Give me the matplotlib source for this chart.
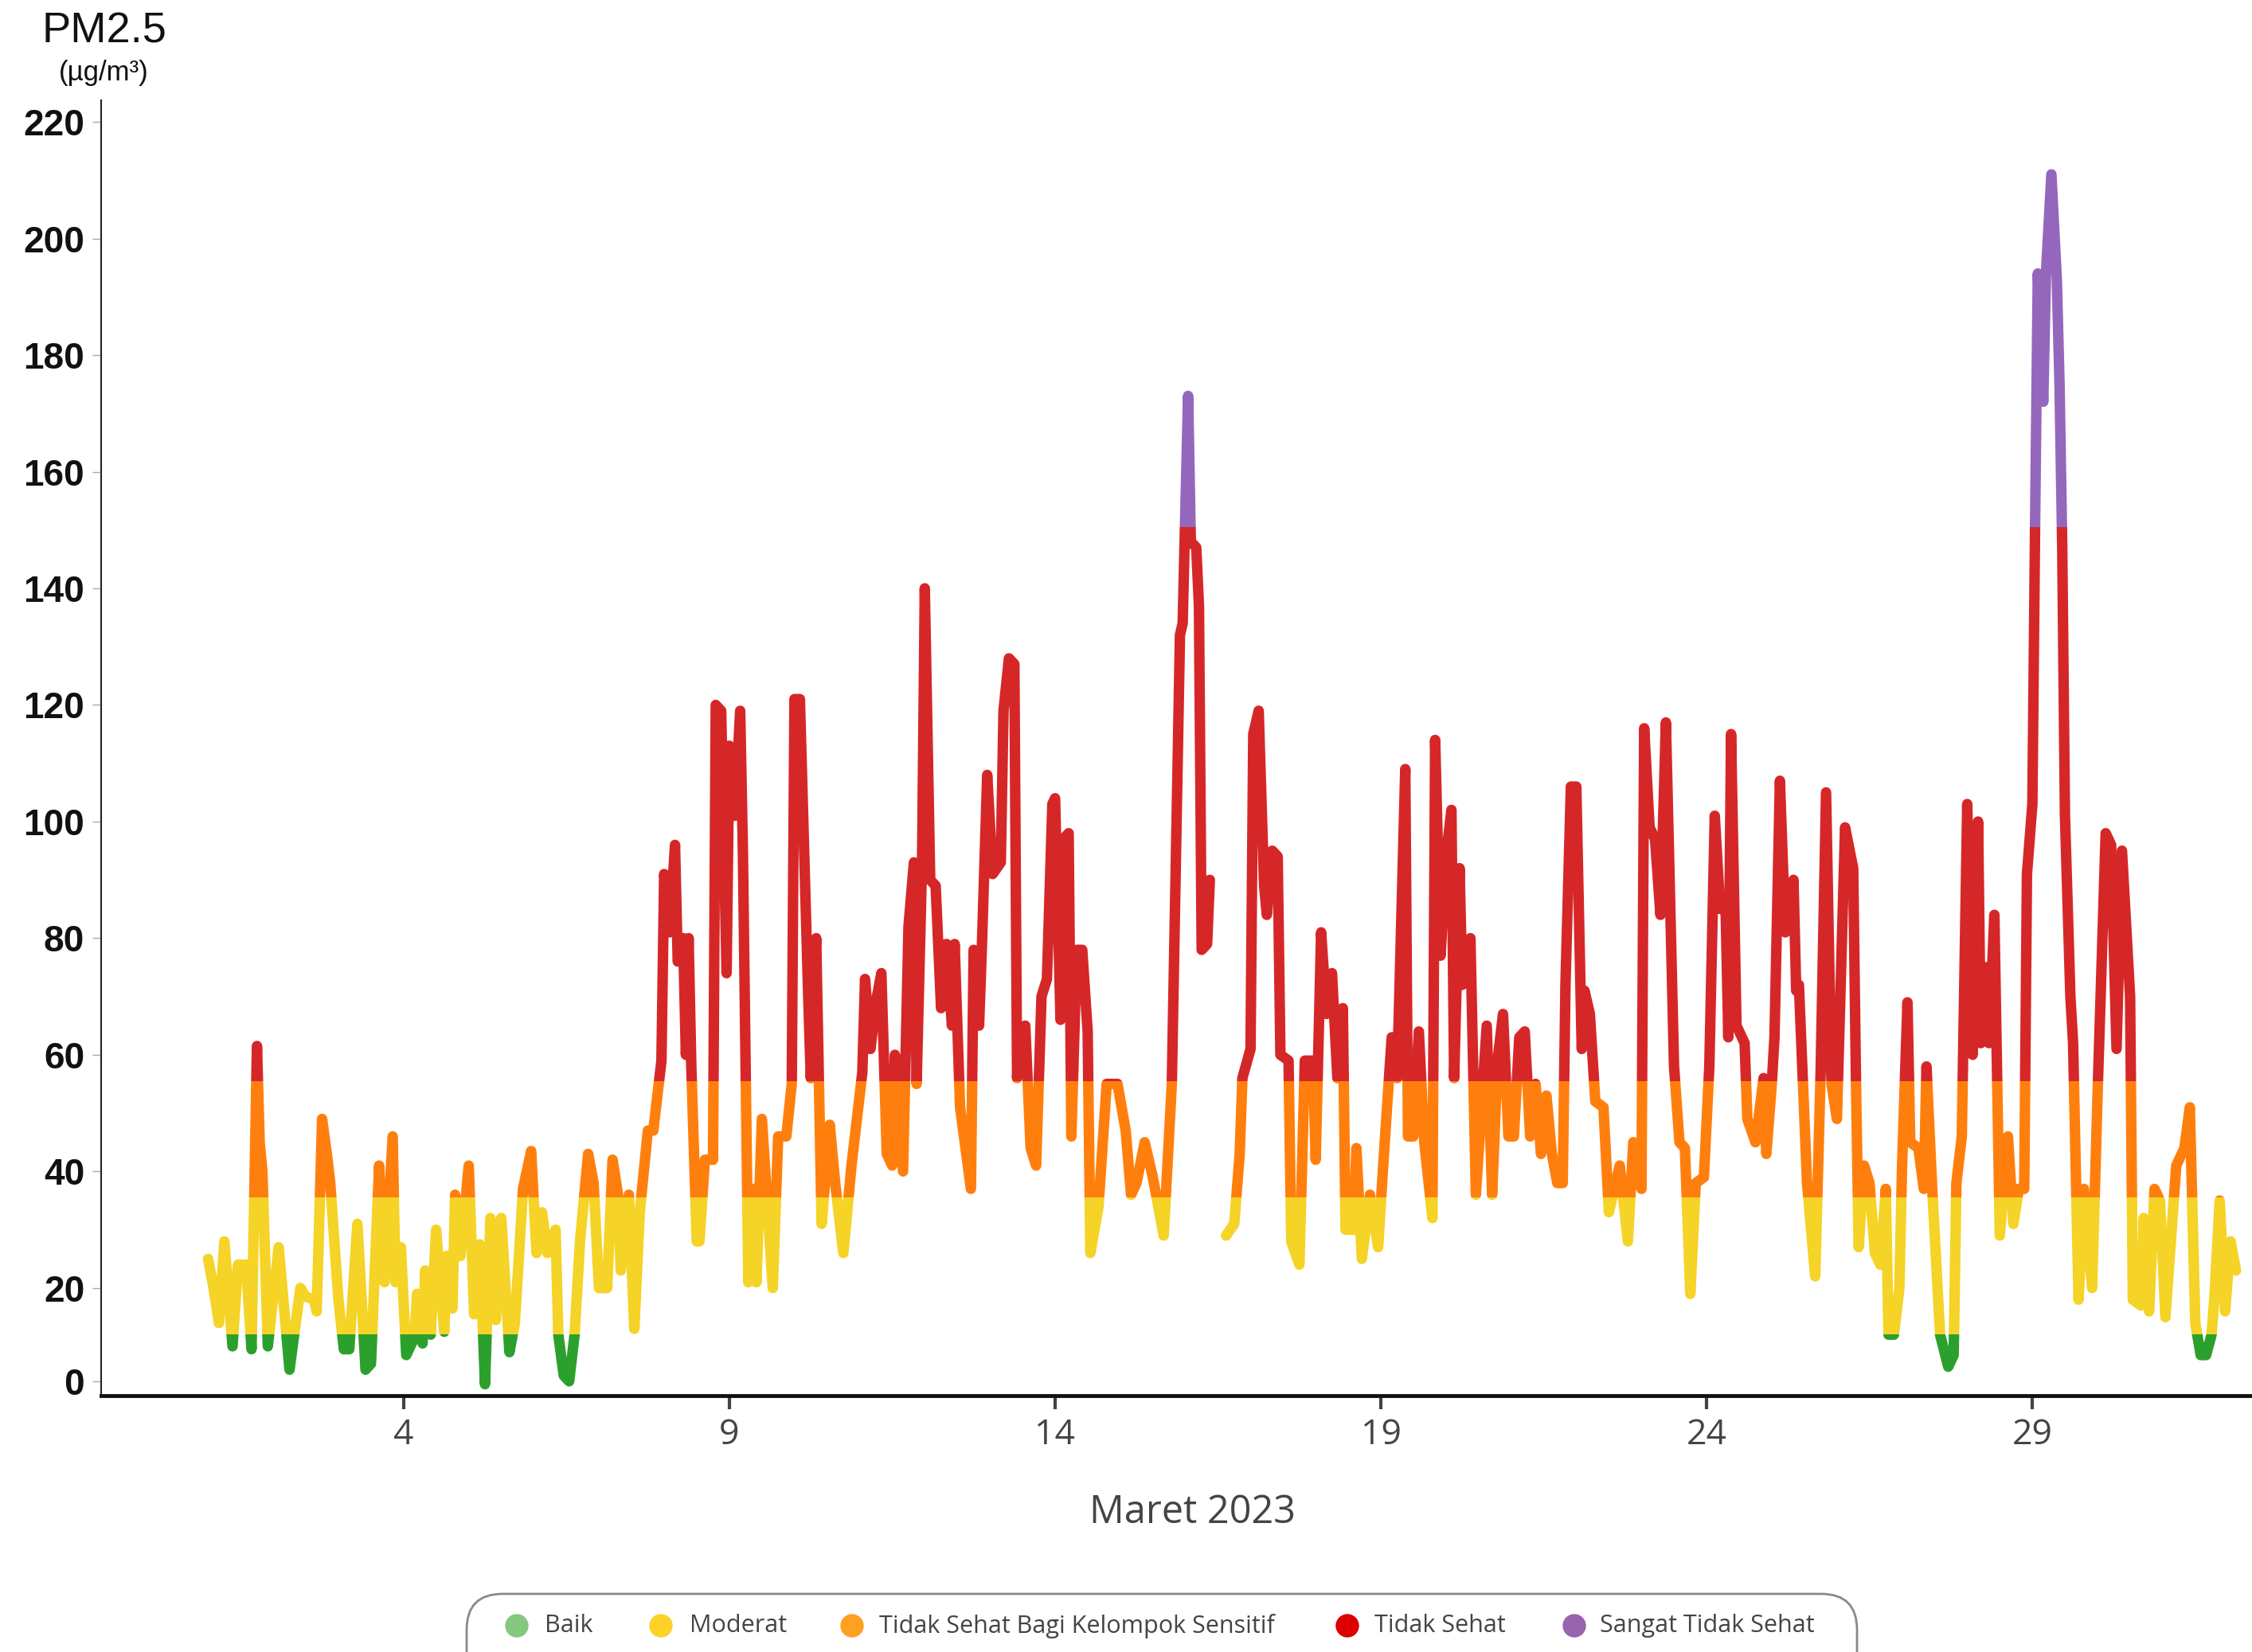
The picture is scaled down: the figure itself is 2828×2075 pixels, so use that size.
import numpy as np
import matplotlib
matplotlib.use("Agg")
import matplotlib.pyplot as plt
from matplotlib.patches import Rectangle, FancyBboxPatch, Circle

# ---------------- data (hours since 1 March 2023 00:00, PM2.5 in ug/m3) -------------
h1 = [0, 2, 4, 6, 9, 11, 14, 16, 18, 19, 20, 22, 26, 30, 34, 36, 39, 40, 42, 44, 45, 48,
      50, 52, 55, 58, 60, 63, 65, 68, 69, 71, 73]
v1 = [25, 20, 14, 28, 10, 24, 24, 9.5, 61.5, 45, 40, 10, 27, 6, 20, 18.5, 18, 16, 49, 42, 38, 18,
      9.5, 9.5, 31, 6, 7, 41, 21, 46, 21, 27, 8.5]

h2 = [76, 77, 79, 80, 82, 84, 87, 88, 90, 91, 93, 96, 98, 100, 102, 104, 106, 108, 111, 113,
      116, 119, 120, 121, 123, 125, 128, 129, 131, 133, 135, 137, 140, 142, 144, 147, 149]
v2 = [11.5, 19, 10.5, 23, 12, 30, 12.5, 25.5, 16.5, 36, 25.5, 41, 15.5, 27.5, 3.5, 32, 14.5, 32, 9, 14,
      37, 43.5, 34.5, 26, 33, 26, 30, 12, 5, 4, 12, 28, 43, 38, 20, 20, 42]

h3 = [151, 152, 155, 157, 159, 162, 164, 167, 168, 170, 172, 173, 175, 176, 177, 178, 180, 181,
      183, 186, 187, 189, 191, 192, 194, 196, 197, 199, 201, 202, 204, 208, 210, 213, 215, 216,
      218, 221, 222, 224, 226, 229]
v3 = [36, 23, 36, 13, 33, 47, 47, 59, 91, 81, 96, 76, 80, 60, 80, 58, 28, 28,
      42, 42, 120, 119, 74, 113, 101, 119, 95, 21, 37, 21, 49, 20, 46, 46, 55, 121,
      121, 71, 56, 80, 31, 48]

h4 = [231, 234, 237, 241, 242, 244, 246, 248, 250, 252, 253, 256, 258, 260, 261, 263, 264, 266,
      268, 270, 272, 274, 275, 277, 281, 282, 284, 285, 287, 289, 292, 293, 295, 297, 298, 299,
      301, 303, 305, 307, 309, 311, 312, 314, 315, 317, 318, 320, 322, 324, 325, 328, 331, 335,
      338, 340, 342, 345, 348, 352, 355, 358, 359, 361, 362, 364, 365, 366, 368, 369]
v4 = [38, 26, 41, 57, 73, 61, 69, 74, 43, 41, 60, 40, 82, 93, 55, 93, 140, 90,
      89, 68, 79, 65, 79, 51, 37, 78, 65, 78, 108, 91, 93, 119, 128, 127, 56, 64,
      65, 44, 41, 70, 73, 103, 104, 66, 97, 98, 46, 78, 78, 64, 26, 34, 55, 55,
      47, 36, 38, 45, 39, 29, 55, 132, 134, 173, 148, 147, 137, 78, 79, 90]

# missing reading (gap in the record)
h_gap = [371]
v_gap = [np.nan]

h5 = [375, 378, 380, 381, 384, 385, 387, 389, 390, 392, 394, 395, 398, 399, 402, 404, 407, 408,
      410, 412, 414, 416, 418, 419, 422, 423, 425, 428, 431, 433, 436, 438, 441, 442, 444, 446,
      448, 451]
v5 = [29, 31, 43, 56, 61, 115, 119, 89, 84, 95, 94, 60, 59, 28, 24, 59, 59, 42,
      81, 67, 74, 56, 68, 30, 30, 44, 25, 36, 27, 42, 63, 56, 109, 46, 46, 64,
      45, 32]

h6 = [452, 454, 456, 458, 459, 461, 462, 465, 467, 471, 473, 475, 477, 479, 481, 483, 485, 487,
      489, 491, 493, 495, 497, 499, 500, 502, 504, 506, 507, 509, 511, 514, 516, 520, 523, 525,
      528, 529, 531, 533, 535, 537]
v6 = [114, 77, 94, 102, 56, 92, 72, 80, 36, 65, 36, 59, 67, 46, 46, 63, 64, 46,
      55, 43, 53, 43, 38, 38, 72, 106, 106, 61, 71, 67, 52, 51, 33, 41, 28, 45,
      37, 116, 99, 97, 84, 117]

h7 = [540, 542, 544, 546, 548, 551, 553, 555, 557, 559, 560, 561, 563, 566, 567, 570, 573, 574,
      576, 577, 579, 581, 584, 585, 586, 589, 592, 594, 596, 598, 600, 603, 606, 607, 608, 610]
v7 = [58, 45, 44, 19, 38, 39, 58, 101, 85, 85, 63, 115, 65, 62, 49, 45, 56, 43,
      55, 63, 107, 81, 90, 71, 72, 38, 22, 57, 105, 55, 49, 99, 92, 56, 27, 41]

h8 = [612, 614, 616, 618, 619, 621, 623, 624, 626, 627, 630, 632, 633, 635, 638, 641, 643, 644,
      646, 648, 650, 652, 653, 655, 656, 658, 660, 663, 665, 667, 669, 670, 672, 673, 674, 676,
      677, 679, 681, 682, 683, 684, 686, 687, 689]
v8 = [38, 26, 24, 37, 12, 12, 20, 41, 69, 45, 44, 37, 58, 38, 12, 6.5, 8.5, 38,
      46, 103, 60, 100, 62, 75, 62, 84, 29, 46, 31, 37, 37, 91, 103, 151, 194, 172,
      194, 211, 193, 175, 147, 101, 70, 62, 18]

h9 = [691, 694, 696, 699, 701, 703, 705, 708, 709, 712, 713, 715, 717, 719, 721, 725, 728, 730,
      732, 734, 736, 738, 739, 741, 743, 745, 747]
v9 = [37, 20, 53, 98, 96, 61, 95, 70, 18, 17, 32, 16, 37, 35, 15, 41, 44, 51,
      14, 8.5, 8.5, 12, 18, 35, 16, 28, 23]

tick_days = [4, 9, 14, 19, 24, 29]
y_ticks = [0, 20, 40, 60, 80, 100, 120, 140, 160, 180, 200, 220]

categories = ["Baik", "Moderat", "Tidak Sehat Bagi Kelompok Sensitif", "Tidak Sehat",
              "Sangat Tidak Sehat"]
cat_upper = [12.0, 35.5, 55.5, 150.5, 1000.0]

# ---------------- styling -----------------------------------------------------------
line_colors = ["#2ca02c", "#f5d327", "#ff7f0e", "#d62728", "#9467bd"]
legend_colors = ["#84c77f", "#fdd127", "#ffa020", "#dc0000", "#9a63ad"]

hours = np.concatenate([h1, h2, h3, h4, h_gap, h5, h6, h7, h8, h9]).astype(float)
pm25 = np.concatenate([v1, v2, v3, v4, v_gap, v5, v6, v7, v8, v9]).astype(float)

W, H = 2828, 2075
fig = plt.figure(figsize=(W / 100, H / 100), dpi=100)
ax = fig.add_axes([127 / W, 1 - 1753 / H, (W - 127) / W, (1753 - 126) / H])

ax.set_xlim(-39.4, 752.9)
ax.set_ylim(1.54, 223.7)

lower = -100.0
for upper, col in zip(cat_upper, line_colors):
    ln, = ax.plot(hours, pm25, color=col, lw=9.5, solid_capstyle="round",
                  solid_joinstyle="round", zorder=3)
    clip = Rectangle((-100, lower), 2000, upper - lower, transform=ax.transData)
    ln.set_clip_path(clip)
    lower = upper

for s in ["top", "right"]:
    ax.spines[s].set_visible(False)
ax.spines["left"].set_linewidth(1.5)
ax.spines["left"].set_color("#222222")
ax.spines["bottom"].set_linewidth(3.5)
ax.spines["bottom"].set_color("#111111")

ax.set_xticks([(d - 1) * 24 for d in tick_days], [str(d) for d in tick_days],
              fontfamily="Open Sans", fontsize=32, color="#444444")
ax.tick_params(axis="x", length=12, width=3, color="#444444", pad=8)

# the "0" label sits just above the baseline in the reference
ytick_pos = [4 if v == 0 else v for v in y_ticks]
ax.set_yticks(ytick_pos, [str(v) for v in y_ticks], fontfamily="Liberation Sans",
              fontweight="bold", fontsize=33, color="#111111")
ax.tick_params(axis="y", length=8, width=1, color="#aaaaaa", pad=7)

# ---------------- overlay in pixel coordinates for texts & legend ------------------
ov = fig.add_axes([0, 0, 1, 1], zorder=10)
ov.set_xlim(0, W)
ov.set_ylim(H, 0)
ov.axis("off")

ov.text(131, 40, "PM2.5", ha="center", va="center", fontsize=39,
        fontfamily="Liberation Sans", color="#111111")
ov.text(130, 92, "(µg/m³)", ha="center", va="center", fontsize=25,
        fontfamily="Liberation Sans", color="#111111")
ov.text(1497, 1900, "Maret 2023", ha="center", va="center", fontsize=35,
        fontfamily="Open Sans", color="#444444")

box = FancyBboxPatch((586, 2002), 2332 - 586, 140,
                     boxstyle="round,pad=0,rounding_size=45",
                     ec="#888888", fc="white", lw=2)
ov.add_patch(box)

circle_x = [649, 830, 1070, 1692, 1977]
text_x = [684, 866, 1104, 1726, 2009]
for cx, tx, lab, col in zip(circle_x, text_x, categories, legend_colors):
    ov.add_patch(Circle((cx, 2042), 14, color=col))
    ov.text(tx, 2042, lab, ha="left", va="center", fontsize=22,
            fontfamily="Open Sans", color="#444444")

fig.savefig("out.png", dpi=100)
